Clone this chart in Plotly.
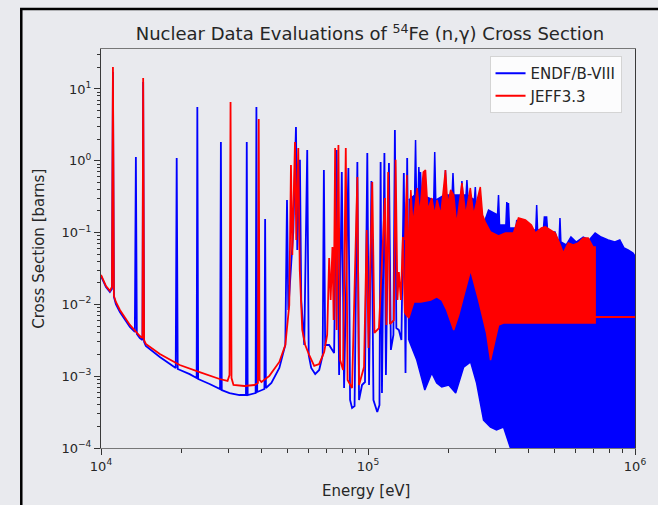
import plotly.graph_objects as go

# ---------------- data ----------------
# ENDF/B-VIII, resolved part (energy in eV, cross section in barns)
endf_energy = [10000, 10440, 10800, 10990, 11085, 11180, 11370, 11770, 12830, 13390,
               13510, 13620, 13980, 14300, 14385, 14500, 14720, 16610, 19050, 19210,
               19380, 21480, 22820, 22950, 23110, 25510, 27920, 28120, 28330, 30290,
               33010, 34910, 35150, 35430, 37940, 38200, 38470, 40930, 41180, 41460,
               43470, 46550, 49010, 49730, 50300, 51610, 52510, 53730, 54340, 55600,
               56230, 57700, 59210, 59980, 61280, 63420, 65650, 67650, 68350, 69120,
               71530, 74670, 76300, 77950, 79770, 81360, 84450, 85680, 87160, 89060,
               91230, 92560, 94970, 97450, 99400, 100900, 103000, 104800, 108300, 110400,
               111500, 112800, 115200, 116700, 119800, 121800, 124500, 126100, 127700, 130500,
               133400, 136200, 138200, 140200, 142200]
endf_xs = [0.0249, 0.0175, 0.0149, 0.0164, 17.3, 0.0127, 0.0101, 0.00784, 0.00484, 0.00413,
           1.13, 0.00387, 0.00340, 0.00319, 12.5, 0.00300, 0.00263, 0.00185, 0.00130, 1.09,
           0.00126, 0.00107, 0.000944, 5.62, 0.000914, 0.000779, 0.000663, 1.83, 0.000642, 0.000583,
           0.000547, 0.000547, 1.83, 0.000547, 0.000583, 5.62, 0.000603, 0.000663, 0.155, 0.000685,
           0.000804, 0.00130, 0.00272, 0.284, 0.00836, 0.0390, 0.102, 2.96, 0.0572, 1.03,
           0.0115, 0.00272, 1.41, 0.00197, 0.00130, 0.00107, 0.00122, 0.00197, 0.745, 0.00272,
           0.00272, 0.00210, 1.41, 0.00104, 0.698, 0.000685, 0.794, 0.000466, 0.000361, 0.000385,
           0.962, 0.000466, 0.000754, 0.000830, 1.28, 0.000754, 0.523, 0.000466, 0.000317, 0.000397,
           0.962, 0.000583, 1.28, 0.00104, 0.932, 0.00232, 0.00375, 2.69, 0.00469, 0.00440,
           0.00319, 0.676, 0.00111, 1.09, 0.00319]

# ENDF/B-VIII, dense band: upper edge (left to right) and lower edge (right to left)
endf_band_upper_energy = [142200, 149500, 150700, 151800, 154100, 155000, 156100, 157300, 158500, 176300,
                          177800, 179400, 193500, 195000, 196500, 206500, 208100, 209700, 223100, 224800,
                          226600, 232900, 234700, 236500, 250300, 252300, 254200, 268600, 282800, 305600,
                          308200, 310900, 328400, 331000, 333500, 335800, 338700, 357900, 360700, 363500,
                          388700, 392000, 395400, 425000, 428300, 431600, 453700, 457600, 466700, 470800,
                          501700, 511700, 519600, 523600, 527700, 552700, 575600, 602400, 639700, 673500,
                          709100, 746600, 793200, 840300, 877100, 910000, 942000, 982900, 1000000]
endf_band_upper_xs = [0.284, 0.334, 1.95, 0.334, 0.334, 0.820, 0.460, 0.698, 0.334, 0.284,
                      1.33, 0.284, 0.334, 0.745, 0.334, 0.334, 0.676, 0.334, 0.334, 0.523,
                      0.334, 0.334, 0.540, 0.334, 0.284, 0.432, 0.242, 0.120, 0.206, 0.176,
                      0.334, 0.128, 0.128, 0.267, 0.206, 0.258, 0.116, 0.116, 0.150, 0.109,
                      0.116, 0.140, 0.109, 0.109, 0.242, 0.109, 0.109, 0.165, 0.165, 0.102,
                      0.102, 0.0789, 0.0789, 0.160, 0.0740, 0.0672, 0.0868, 0.0740, 0.0868, 0.0789,
                      0.0988, 0.0868, 0.0789, 0.0740, 0.0789, 0.0610, 0.0572, 0.0520, 0.0472]
endf_band_lower_energy = [1000000, 366000, 341600, 321700, 302900, 287700, 270900, 255100, 242300, 228200,
                          213000, 200600, 188900, 180900, 173300, 163200, 152300, 142200]
endf_band_lower_xs = [6e-5, 6e-5, 1.0e-4, 1.96e-4, 1.78e-4, 1.96e-4, 2.45e-4, 8.04e-4, 0.00158, 0.00134,
                      0.000583, 0.000754, 0.000707, 0.000804, 0.00111, 0.000642, 0.00168, 0.00319]

# JEFF3.3, resolved part
jeff_energy = [10000, 10440, 10800, 10990, 11085, 11180, 11370, 11770, 12830, 13980,
               14300, 14385, 14500, 14720, 16610, 19720, 23410, 27800, 29780, 30290,
               30560, 30820, 31350, 34460, 37550, 38700, 38970, 39260, 39880, 42720,
               46550, 49010, 50720, 51460, 52060, 53280, 53870, 54810, 55520, 56720,
               58200, 60250, 62880, 65650, 68530, 70310, 71530, 72460, 73590, 74360,
               75320, 76300, 77490, 78620, 80670, 82570, 83850, 87160, 91230, 92560,
               96630, 98900, 100440, 103750, 105700, 109900, 115700, 117200, 119000, 120800,
               125000, 126900, 128900, 130500, 132800, 135100, 137400]
jeff_xs = [0.0257, 0.0180, 0.0154, 0.0175, 20.3, 0.0131, 0.0108, 0.00836, 0.00517, 0.00363,
           0.00340, 14.2, 0.00319, 0.00281, 0.00204, 0.00143, 0.00114, 0.000914, 0.000858, 0.00104,
           6.59, 0.000944, 0.000754, 0.000730, 0.000754, 0.000804, 3.82, 0.000886, 0.000830, 0.00101,
           0.00158, 0.00272, 0.00981, 0.874, 0.0488, 1.83, 0.0789, 1.51, 0.0301, 0.00440,
           0.00272, 0.00197, 0.00139, 0.00148, 0.00217, 0.00375, 0.0443, 0.0115, 0.0630, 0.00606,
           1.51, 0.00440, 1.66, 0.00168, 0.00122, 1.51, 0.000886, 0.000685, 0.595, 0.000754,
           0.00134, 0.109, 0.00247, 0.507, 0.00400, 0.00469, 0.303, 0.00517, 0.698, 0.00533,
           0.00606, 1.03, 0.0115, 0.0283, 0.0115, 0.0868, 0.00759]

# JEFF3.3 dense band
jeff_band_upper_energy = [137400, 139800, 141600, 144700, 147200, 152800, 156300, 161100, 164200, 167500,
                          173300, 177800, 181400, 187300, 195000, 198800, 204000, 209400, 214800, 224800,
                          232100, 241700, 248600, 263400, 268600, 274900, 287700, 308200, 327300, 350600,
                          366000, 388700, 409200, 423600, 446000, 461500, 481800, 502900, 524900, 538600,
                          562300, 587000, 612800, 639700, 667700, 697000, 709100]
jeff_band_upper_xs = [0.0789, 0.634, 0.0415, 0.392, 0.128, 0.418, 0.176, 0.698, 0.745, 0.206,
                      0.303, 0.176, 0.284, 0.176, 0.745, 0.242, 0.392, 0.334, 0.128, 0.491,
                      0.176, 0.418, 0.176, 0.432, 0.176, 0.140, 0.102, 0.0897, 0.0988, 0.0988,
                      0.160, 0.150, 0.128, 0.0988, 0.116, 0.120, 0.109, 0.0988, 0.0672, 0.0520,
                      0.0716, 0.0672, 0.0716, 0.0841, 0.0841, 0.0630, 0.0630]
jeff_band_lower_energy = [709100, 321700, 308200, 300300, 287700, 278000, 259600, 242300, 228200, 218600,
                          209400, 197100, 188900, 180900, 171800, 157700, 148500, 142200, 137400]
jeff_band_lower_xs = [0.00551, 0.00551, 0.00517, 0.00340, 0.00168, 0.00400, 0.0115, 0.0301, 0.0131, 0.00712,
                      0.00440, 0.00836, 0.0115, 0.0127, 0.0115, 0.0108, 0.0108, 0.00646, 0.00759]

# JEFF3.3 smooth tail
jeff_tail_energy = [709100, 1000000]
jeff_tail_xs = [0.00668, 0.00668]

x_tick_vals = [1e4, 1e5, 1e6]
x_tick_text = ['10<sup>4</sup>', '10<sup>5</sup>', '10<sup>6</sup>']
y_tick_vals = [1e-4, 1e-3, 1e-2, 1e-1, 1e0, 1e1]
y_tick_text = ['10<sup>−4</sup>', '10<sup>−3</sup>', '10<sup>−2</sup>', '10<sup>−1</sup>',
               '10<sup>0</sup>', '10<sup>1</sup>']
x_minor = [m * 10 ** k for k in (4, 5) for m in range(2, 10)]
y_minor = [m * 10.0 ** k for k in (-4, -3, -2, -1, 0, 1) for m in range(2, 10) if m * 10.0 ** k < 36]

# ---------------- figure ----------------
BLUE = '#0000ff'
RED = '#ff0000'
BG = '#e9eaee'
FONT = 'DejaVu Sans'
TXT = '#262626'

fig = go.Figure()
fig.add_trace(go.Scatter(x=endf_energy, y=endf_xs, mode='lines', name='ENDF/B-VIII',
                         line=dict(color=BLUE, width=1.8, simplify=False), hoverinfo='skip'))
fig.add_trace(go.Scatter(x=endf_band_upper_energy + endf_band_lower_energy,
                         y=endf_band_upper_xs + endf_band_lower_xs,
                         mode='lines', fill='toself', fillcolor=BLUE, showlegend=False,
                         line=dict(color=BLUE, width=1.5, simplify=False), hoverinfo='skip'))
fig.add_trace(go.Scatter(x=jeff_energy, y=jeff_xs, mode='lines', name='JEFF3.3',
                         line=dict(color=RED, width=1.8, simplify=False), hoverinfo='skip'))
fig.add_trace(go.Scatter(x=jeff_band_upper_energy + jeff_band_lower_energy,
                         y=jeff_band_upper_xs + jeff_band_lower_xs,
                         mode='lines', fill='toself', fillcolor=RED, showlegend=False,
                         line=dict(color=RED, width=1.5, simplify=False), hoverinfo='skip'))
fig.add_trace(go.Scatter(x=jeff_tail_energy, y=jeff_tail_xs, mode='lines', showlegend=False,
                         line=dict(color=RED, width=1.8), hoverinfo='skip'))

axis_common = dict(showgrid=False, zeroline=False, showline=True, linewidth=1,
                   mirror=True, ticks='outside', ticklen=6, tickwidth=1, tickcolor='#333',
                   tickfont=dict(family=FONT, size=13, color=TXT))

fig.update_xaxes(type='log', range=[4, 6], tickmode='array', tickvals=x_tick_vals, ticktext=x_tick_text,
                 linecolor='#777',
                 minor=dict(ticks='outside', ticklen=3.5, tickcolor='#333', tickvals=x_minor, showgrid=False),
                 **axis_common)
fig.update_yaxes(type='log', range=[-4, 1.557], tickmode='array', tickvals=y_tick_vals, ticktext=y_tick_text,
                 linecolor='#3a3a3a',
                 minor=dict(ticks='outside', ticklen=3.5, tickcolor='#333', tickvals=y_minor, showgrid=False),
                 **axis_common)

fig.update_layout(
    width=658, height=505,
    margin=dict(l=101, r=21, t=49, b=57),
    paper_bgcolor=BG, plot_bgcolor=BG,
    font=dict(family=FONT, color=TXT),
    hovermode=False,
    title=dict(text='Nuclear Data Evaluations of <sup>54</sup>Fe (n,γ) Cross Section',
               x=370 / 658, xref='container', xanchor='center', y=1 - 34 / 505, yref='container',
               yanchor='middle', font=dict(family=FONT, size=18, color=TXT)),
    legend=dict(x=0.7276, y=0.9825, xanchor='left', yanchor='top',
                bgcolor='rgba(255,255,255,0.85)', bordercolor='#d4d4d4', borderwidth=1,
                font=dict(family=FONT, size=15, color=TXT)),
    annotations=[
        dict(text='Energy [eV]', x=0.496, y=-0.1078, xref='paper', yref='paper',
             xanchor='center', yanchor='middle', showarrow=False,
             font=dict(family=FONT, size=15, color=TXT)),
        dict(text='Cross Section [barns]', x=-0.1175, y=0.5, xref='paper', yref='paper',
             xanchor='center', yanchor='middle', showarrow=False, textangle=-90,
             font=dict(family=FONT, size=15, color=TXT)),
    ],
    shapes=[dict(type='rect', xref='paper', yref='paper', x0=-0.1493, x1=1.3, y0=-0.4, y1=1.1003,
                 line=dict(color='black', width=2.5), layer='above')],
)

fig.write_html('out.html', config={'displayModeBar': False},
               post_script="document.body.style.margin='0px';")
